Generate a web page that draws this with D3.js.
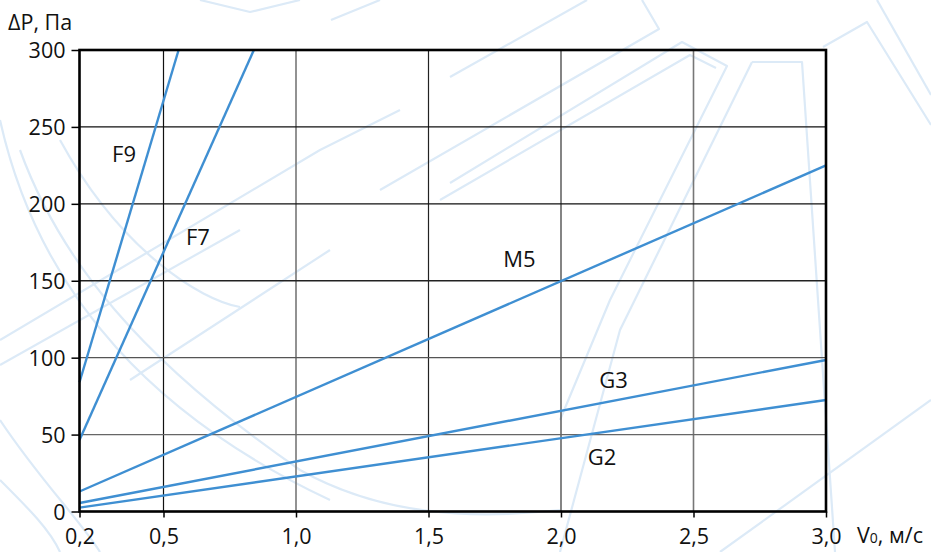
<!DOCTYPE html>
<html>
<head>
<meta charset="utf-8">
<script src="https://cdn.jsdelivr.net/npm/d3@7/dist/d3.min.js"></script>
<style>
  html, body { margin: 0; padding: 0; background: #fff; }
  svg { display: block; }
  text { font-family: "Open Sans", "Noto Sans", sans-serif; fill: #111; }
</style>
</head>
<body>
<svg id="chart" width="931" height="552"></svg>
<script>
// Filter classes and their pressure-drop lines (velocity m/s, pressure Pa)
const filterClasses = ["F9", "F7", "M5", "G3", "G2"];
const velocityPoints = {
  F9: [0.2, 0.557],
  F7: [0.2, 0.841],
  M5: [0.2, 3.0],
  G3: [0.2, 3.0],
  G2: [0.2, 3.0]
};
const pressurePoints = {
  F9: [84, 300],
  F7: [46.5, 300],
  M5: [13, 225],
  G3: [5.5, 98.5],
  G2: [2.5, 72.5]
};
// Where each class name is written, in data units
const labelVelocity = { F9: 0.359, F7: 0.63, M5: 1.843, G3: 2.198, G2: 2.155 };
const labelPressure = { F9: 227, F7: 173, M5: 159, G3: 80, G2: 30.5 };

const xTicks = [0.2, 0.5, 1.0, 1.5, 2.0, 2.5, 3.0];
const yTicks = [0, 50, 100, 150, 200, 250, 300];

const svg = d3.select("#chart");

// Faint background emblem strokes
const emblem = svg.append("g")
  .attr("fill", "none")
  .attr("stroke", "#dceaf7")
  .attr("stroke-width", 2.2)
  .attr("stroke-linejoin", "round");
[
  "M450,77 L587,0",
  "M450,183 L682,42 L727,66 L610,300 L560,420",
  "M440,200 L690,55 L716,68",
  "M642,0 L659,29 L380,190",
  "M752,62 L802,62 L818,300 L835,552",
  "M752,62 L620,330 L560,552",
  "M823,47 L867,22 L931,125",
  "M877,0 L931,95",
  "M931,400 L720,552",
  "M0,340 L320,150 L400,110",
  "M0,365 L240,230",
  "M130,380 L330,250",
  "M20,150 C60,260 140,360 300,470 C380,515 470,520 560,510",
  "M0,120 C40,300 160,420 330,500",
  "M60,140 C120,250 200,300 240,307",
  "M0,480 C30,510 50,530 60,552",
  "M0,420 C40,480 80,520 100,552",
  "M380,0 L331,20",
  "M200,0 L250,12 L300,0"
].forEach(d => emblem.append("path").attr("d", d));

// Scales: the first interval (0.2–0.5) is drawn slightly wider than the rest
const x = d3.scaleLinear().domain([0.2, 0.5, 3.0]).range([79.5, 163.5, 826]);
const y = d3.scaleLinear().domain([0, 300]).range([511.5, 50]);

const fmt = v => d3.format(".1f")(v).replace(".", ",");

// Grid
const gridShade = { 0.5: "#111", 1.0: "#777", 1.5: "#222", 2.0: "#333", 2.5: "#777" };
const hGridShade = { 50: "#666", 100: "#555", 150: "#222", 200: "#111", 250: "#111" };

const grid = svg.append("g");
grid.selectAll("line.v")
  .data(xTicks.filter(t => t > 0.2 && t < 3.0))
  .join("line")
  .attr("x1", d => x(d)).attr("x2", d => x(d))
  .attr("y1", y(300)).attr("y2", y(0))
  .attr("stroke", d => gridShade[d])
  .attr("stroke-width", d => gridShade[d] === "#777" ? 1.6 : 1.2);
grid.selectAll("line.h")
  .data(yTicks.filter(t => t > 0 && t < 300))
  .join("line")
  .attr("x1", x(0.2)).attr("x2", x(3.0))
  .attr("y1", d => y(d)).attr("y2", d => y(d))
  .attr("stroke", d => hGridShade[d])
  .attr("stroke-width", 1.3);

// Pressure-drop lines
const line = d3.line().x(d => x(d[0])).y(d => y(d[1]));
svg.append("g")
  .selectAll("path")
  .data(filterClasses)
  .join("path")
  .attr("d", k => line(velocityPoints[k].map((v, i) => [v, pressurePoints[k][i]])))
  .attr("fill", "none")
  .attr("stroke", "#3f8fd2")
  .attr("stroke-width", 2.4);

// Frame
svg.append("rect")
  .attr("x", x(0.2)).attr("y", y(300))
  .attr("width", x(3.0) - x(0.2)).attr("height", y(0) - y(300))
  .attr("fill", "none")
  .attr("stroke", "#000")
  .attr("stroke-width", 2.6);

// Axes
const xAxis = d3.axisBottom(x).tickValues(xTicks).tickFormat(fmt).tickSize(6).tickPadding(11);
const yAxis = d3.axisLeft(y).tickValues(yTicks).tickFormat(d3.format("d")).tickSize(8).tickPadding(6);

const gx = svg.append("g").attr("transform", `translate(0,${y(0)})`).call(xAxis);
const gy = svg.append("g").attr("transform", `translate(${x(0.2)},0)`).call(yAxis);
[gx, gy].forEach(g => {
  g.select(".domain").remove();
  g.selectAll(".tick line").attr("stroke", "#000").attr("stroke-width", 1.5);
  g.selectAll(".tick text")
    .attr("font-family", "'Open Sans', sans-serif")
    .attr("font-size", 21.5)
    .attr("fill", "#111");
});
gy.selectAll(".tick text").attr("dy", "0.36em");
gx.selectAll(".tick text").attr("dy", "0.71em");

// Axis titles
svg.append("text")
  .attr("x", 8).attr("y", 30)
  .attr("font-size", 21.5)
  .text("ΔP, Па");

const xt = svg.append("text")
  .attr("x", 857).attr("y", 543)
  .attr("font-size", 21.5);
xt.append("tspan").text("V");
xt.append("tspan").attr("font-size", 14).text("0");
xt.append("tspan").text(", м/с");

// Class labels
svg.append("g")
  .selectAll("text")
  .data(filterClasses)
  .join("text")
  .attr("x", k => x(labelVelocity[k]))
  .attr("y", k => y(labelPressure[k]))
  .attr("font-size", 22)
  .attr("text-anchor", "middle")
  .text(k => k);
</script>
</body>
</html>
